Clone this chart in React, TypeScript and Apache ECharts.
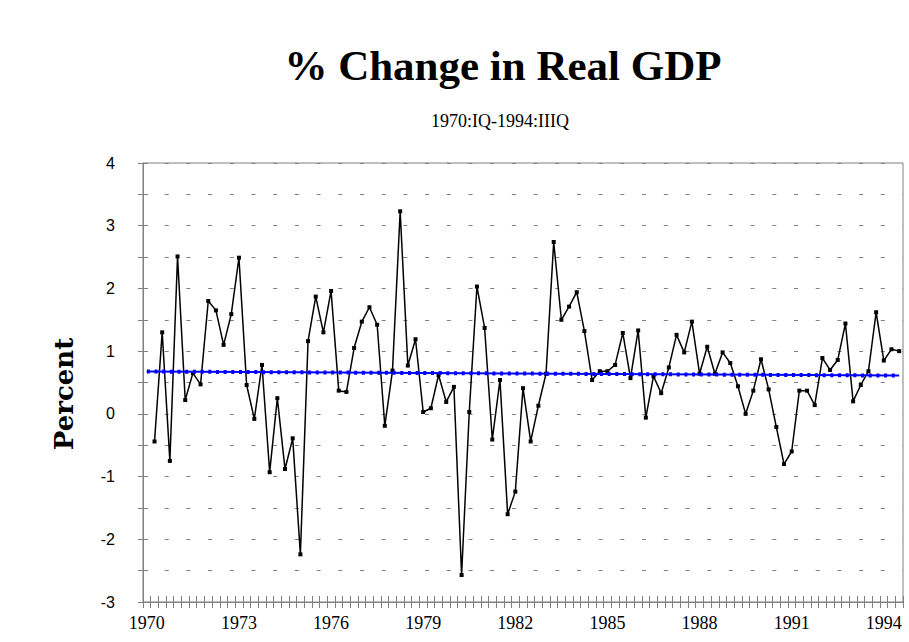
import React, { useEffect, useRef } from "react";
import * as echarts from "echarts";

const START_YEAR = 1970;
const QUARTER_COUNT = 99; // 1970:IQ .. 1994:IIIQ
const LABEL_YEARS = ["1970", "1973", "1976", "1979", "1982", "1985", "1988", "1991", "1994"];

// quarterly % change in real GDP (first quarter has no value)
const gdpChange: (number | null)[] = [
  null,
  -0.44, 1.3, -0.75, 2.51, 0.22, 0.65, 0.47, 1.8, 1.65, 1.1,
  1.59, 2.49, 0.46, -0.08, 0.78, -0.93, 0.25, -0.88, -0.39, -2.24,
  1.16, 1.87, 1.3, 1.96, 0.37, 0.35, 1.05, 1.47, 1.7, 1.42,
  -0.19, 0.69, 3.23, 0.77, 1.19, 0.03, 0.09, 0.62, 0.19, 0.43,
  -2.57, 0.03, 2.03, 1.37, -0.41, 0.54, -1.6, -1.24, 0.41, -0.44,
  0.13, 0.64, 2.74, 1.5, 1.71, 1.94, 1.32, 0.54, 0.68, 0.68,
  0.78, 1.29, 0.57, 1.33, -0.06, 0.6, 0.33, 0.74, 1.26, 0.98,
  1.47, 0.64, 1.07, 0.64, 0.98, 0.81, 0.44, 0.0, 0.37, 0.87,
  0.39, -0.21, -0.8, -0.6, 0.37, 0.37, 0.14, 0.89, 0.7, 0.86,
  1.44, 0.2, 0.46, 0.68, 1.62, 0.85, 1.03, 1.0,
];

// linear trend line end points: [category index, value]
const trendLine: [number, number][] = [
  [0, 0.675],
  [98, 0.61],
];

const Y_MIN = -3;
const Y_MAX = 4;
const Y_STEP = 0.5;

const quarters: string[] = [];
for (let i = 0; i < QUARTER_COUNT; i++) {
  const y = START_YEAR + Math.floor(i / 4);
  quarters.push(`${y} Q${(i % 4) + 1}`);
}

const GRAY = "#808080";

export default function App() {
  const ref = useRef<HTMLDivElement>(null);

  useEffect(() => {
    document.body.style.margin = "0";
    const chart = echarts.init(ref.current!, null, { renderer: "svg" });
    const option: any = {
      animation: false,
      backgroundColor: "#ffffff",
      grid: {
        left: 143,
        right: 6,
        top: 163,
        bottom: 40,
        show: true,
        borderColor: GRAY,
        borderWidth: 1,
        backgroundColor: "transparent",
      },
      xAxis: [
        {
          type: "category",
          data: quarters,
          boundaryGap: true,
          position: "bottom",
          axisLine: { show: true, onZero: false, lineStyle: { color: GRAY, width: 1 } },
          axisTick: { show: true, interval: 0, length: 6, lineStyle: { color: GRAY } },
          axisLabel: {
            interval: 11,
            formatter: (v: string) => {
              const yr = v.slice(0, 4);
              return LABEL_YEARS.includes(yr) ? yr : "";
            },
            color: "#000",
            fontFamily: "Liberation Serif",
            fontSize: 18,
            margin: 12,
          },
          splitLine: { show: false },
        },
        {
          type: "category",
          data: quarters,
          boundaryGap: true,
          position: "bottom",
          axisLine: { show: false, onZero: false },
          axisTick: { show: true, interval: 0, inside: true, length: 6, lineStyle: { color: GRAY } },
          axisLabel: { show: false },
          splitLine: { show: false },
        },
      ],
      yAxis: [
        {
          type: "value",
          min: Y_MIN,
          max: Y_MAX,
          interval: Y_STEP,
          position: "left",
          axisLine: { show: true, onZero: false, lineStyle: { color: GRAY, width: 1 } },
          axisTick: { show: true, length: 5, lineStyle: { color: GRAY } },
          axisLabel: {
            formatter: (v: number) => (Number.isInteger(v) ? String(v) : ""),
            margin: 28,
            color: "#000",
            fontFamily: "Liberation Sans",
            fontSize: 16,
          },
          splitLine: { show: true, lineStyle: { color: GRAY, width: 1, type: [4, 17.7] } },
        },
        {
          type: "value",
          min: Y_MIN,
          max: Y_MAX,
          interval: Y_STEP,
          position: "left",
          axisLine: { show: false, onZero: false },
          axisTick: { show: true, inside: true, length: 5, lineStyle: { color: GRAY } },
          axisLabel: { show: false },
          splitLine: { show: false },
        },
      ],
      series: [
        {
          type: "line",
          data: gdpChange,
          xAxisIndex: 0,
          yAxisIndex: 0,
          symbol: "rect",
          symbolSize: 4,
          showSymbol: true,
          showAllSymbol: true,
          connectNulls: false,
          itemStyle: { color: "#000" },
          lineStyle: { color: "#000", width: 1.5 },
          z: 2,
        },
        {
          type: "line",
          data: trendLine,
          xAxisIndex: 0,
          yAxisIndex: 0,
          symbol: "none",
          lineStyle: { color: "#0000ff", width: 2 },
          z: 3,
        },
        {
          type: "line",
          data: trendLine,
          xAxisIndex: 0,
          yAxisIndex: 0,
          symbol: "none",
          lineStyle: { color: "#0000ff", width: 4, type: [3, 4.68] },
          z: 3,
        },
      ],
      graphic: [
        {
          type: "text",
          x: 503,
          y: 65,
          style: {
            text: "% Change in Real GDP",
            textAlign: "center",
            textVerticalAlign: "middle",
            fontFamily: "Liberation Serif",
            fontWeight: "bold",
            fontSize: 43,
            fill: "#000",
          },
        },
        {
          type: "text",
          x: 500,
          y: 121,
          style: {
            text: "1970:IQ-1994:IIIQ",
            textAlign: "center",
            textVerticalAlign: "middle",
            fontFamily: "Liberation Serif",
            fontSize: 18,
            fill: "#000",
          },
        },
        {
          type: "text",
          x: 64,
          y: 394,
          rotation: Math.PI / 2,
          style: {
            text: "Percent",
            textAlign: "center",
            textVerticalAlign: "middle",
            fontFamily: "DejaVu Serif",
            fontWeight: "bold",
            fontSize: 26,
            fill: "#000",
          },
        },
      ],
    };
    chart.setOption(option);
    return () => chart.dispose();
  }, []);

  return (
    <div
      ref={ref}
      style={{ position: "absolute", left: 0, top: 0, width: 909, height: 642 }}
    />
  );
}
